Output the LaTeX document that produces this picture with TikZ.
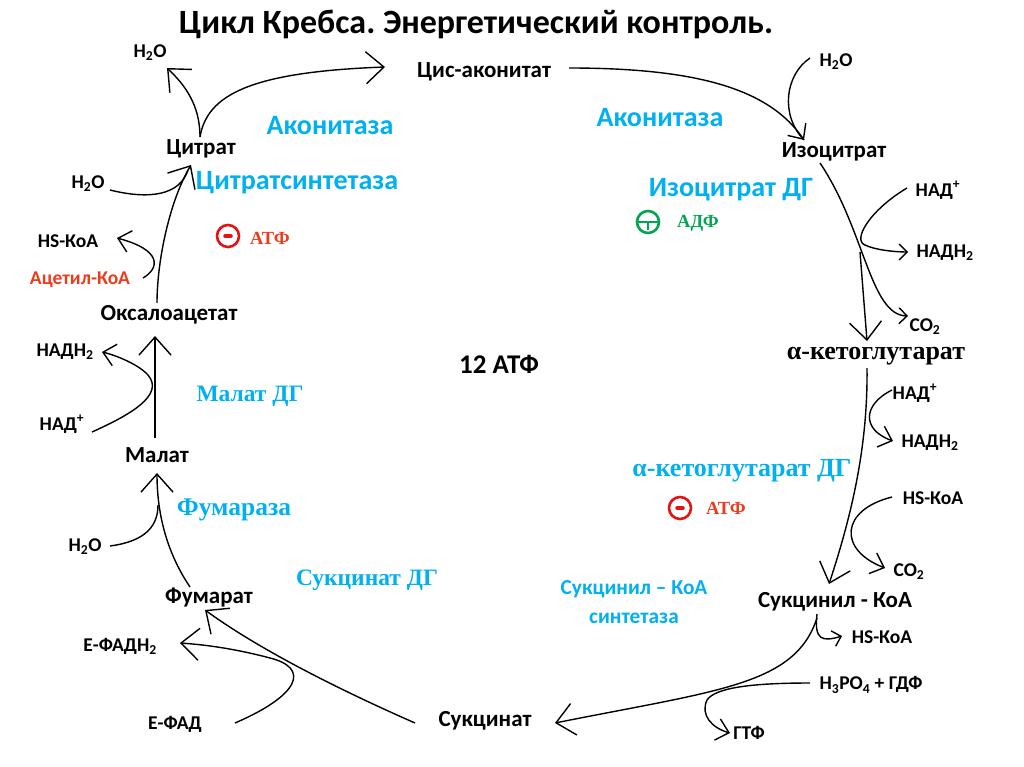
\documentclass[tikz,border=0pt]{standalone}
\usepackage{fontspec}
\setmainfont{Carlito}
\newfontfamily\tms{Liberation Serif}
\usetikzlibrary{arrows.meta}
\definecolor{enzblue}{RGB}{0,176,240}
\definecolor{txtred}{RGB}{235,60,30}
\definecolor{inhred}{RGB}{228,20,20}
\definecolor{actgreen}{RGB}{0,166,80}
\frenchspacing
\tikzset{
  lbl/.style={inner sep=0pt, font=\bfseries\fontsize{23}{27}\selectfont},
  sml/.style={inner sep=0pt, font=\bfseries\fontsize{19.5}{23}\selectfont},
  enz/.style={inner sep=0pt, text=enzblue, font=\bfseries\fontsize{28}{33}\selectfont},
  enzt/.style={inner sep=0pt, text=enzblue, font=\tms\bfseries\fontsize{23.5}{28}\selectfont},
  eff/.style={inner sep=0pt, font=\tms\bfseries\fontsize{18.5}{22}\selectfont},
  conn/.style={line width=1.4pt, black},
  bigA/.style={-{Straight Barb[length=18pt,width=32pt]}},
  medA/.style={-{Straight Barb[length=12pt,width=22pt]}},
  smallA/.style={-{Straight Barb[length=8pt,width=16pt]}},
  inh/.style={circle, draw=inhred, line width=2.6pt, minimum size=22pt, inner sep=0pt},
  act/.style={circle, draw=actgreen, line width=2.6pt, minimum size=22pt, inner sep=0pt}
}
\begin{document}
\begin{tikzpicture}[x=1pt,y=-1pt]
\useasboundingbox (0,0) rectangle (1024,767);
\fill[white] (0,0) rectangle (1024,767);

% title
\node[inner sep=0pt, font=\bfseries\fontsize{34}{40}\selectfont] (title) at (476,24) {Цикл Кребса. Энергетический контроль.};

% metabolites
\node[lbl] (cis) at (484,72) {Цис-аконитат};
\node[lbl] (izo) at (834,152) {Изоцитрат};
\node[lbl] (cit) at (201,149) {Цитрат};
\node[lbl] (oxa) at (169,315) {Оксалоацетат};
\node[inner sep=0pt, font=\tms\bfseries\fontsize{26}{30}\selectfont] (akg) at (876,356) {α-кетоглутарат};
\node[lbl] (mal) at (157,455) {Малат};
\node[lbl] (fum) at (209,598) {Фумарат};
\node[lbl] (sucoa) at (835,602) {Сукцинил - КоА};
\node[lbl] (suc) at (485,721) {Сукцинат};
\node[inner sep=0pt, font=\bfseries\fontsize{27}{32}\selectfont] (atp12) at (499,364) {12 АТФ};

% small co-substrates
\node[sml] (h2oA) at (150,53) {H\textsubscript{2}O};
\node[sml] (h2oB) at (836,62) {H\textsubscript{2}O};
\node[sml] (h2oC) at (88,184) {H\textsubscript{2}O};
\node[sml] (hskoaA) at (68,241) {HS-КоА};
\node[sml, text=txtred] (acetyl) at (80,280) {Ацетил-КоА};
\node[sml] (nadhA) at (65,352) {НАДН\textsubscript{2}};
\node[sml] (nadA) at (62,424) {НАД\textsuperscript{+}};
\node[sml] (h2oD) at (85,547) {H\textsubscript{2}O};
\node[sml] (efadh) at (120,646) {Е-ФАДН\textsubscript{2}};
\node[sml] (efad) at (175,724) {Е-ФАД};
\node[sml] (nadB) at (938,190) {НАД\textsuperscript{+}};
\node[sml] (nadhB) at (945,253) {НАДН\textsubscript{2}};
\node[sml] (co2A) at (925,327) {CO\textsubscript{2}};
\node[sml] (nadC) at (915,393) {НАД\textsuperscript{+}};
\node[sml] (nadhC) at (930,443) {НАДН\textsubscript{2}};
\node[sml] (hskoaB) at (933,498) {HS-КоА};
\node[sml] (co2B) at (909,572) {CO\textsubscript{2}};
\node[sml] (hskoaC) at (882,637) {HS-КоА};
\node[sml] (h3po4) at (871,685) {H\textsubscript{3}PO\textsubscript{4} + ГДФ};
\node[sml] (gtf) at (749,733) {ГТФ};

% enzymes
\node[enz] (akon1) at (330,126) {Аконитаза};
\node[enz] (akon2) at (660,118) {Аконитаза};
\node[enz] (citsyn) at (297,183) {Цитратсинтетаза};
\node[enz] (izodg) at (731,190) {Изоцитрат ДГ};
\node[enzt] (maldg) at (250,396) {Малат ДГ};
\node[enzt, font=\tms\bfseries\fontsize{25.5}{30}\selectfont] (fumaraza) at (234,510) {Фумараза};
\node[enzt] (sucdg) at (367,580) {Сукцинат ДГ};
\node[enzt, font=\tms\bfseries\fontsize{26}{30}\selectfont] (akgdg) at (742,471) {α-кетоглутарат ДГ};
\node[inner sep=0pt, text=enzblue, align=center, font=\bfseries\fontsize{21.3}{29}\selectfont] (sucsyn) at (634,602) {Сукцинил – КоА\\синтетаза};

% effectors
\node[inh] (neg1) at (228,236) {};
\draw[inhred, line width=3.5pt, line cap=round] ([xshift=-3pt]neg1.center) -- ([xshift=3pt]neg1.center);
\node[eff, text=txtred] (atf1) at (270,238) {АТФ};
\node[act] (pos1) at (648,222) {};
\draw[actgreen, line width=2.4pt] (pos1.west) -- (pos1.east);
\draw[actgreen, line width=2.4pt] (pos1.center) -- ([yshift=4pt]pos1.south);
\node[eff, text=actgreen] (adf) at (698,223) {АДФ};
\node[inh] (neg2) at (680,508) {};
\draw[inhred, line width=3.5pt, line cap=round] ([xshift=-3pt]neg2.center) -- ([xshift=3pt]neg2.center);
\node[eff, text=txtred] (atf2) at (726,508) {АТФ};

% junction coordinates
\coordinate (citTop) at (200,137);
\coordinate (cisIn) at (385,67);
\coordinate (h2oAtip) at (167,68);
\coordinate (cisOut) at (569,68);
\coordinate (izoIn) at (804,140);
\coordinate (h2oBst) at (810,58);
\coordinate (izoOut) at (820,163);
\coordinate (co2Atip) at (908,316);
\coordinate (bSt) at (860,252);
\coordinate (akgIn) at (867,341);
\coordinate (nadBst) at (907,188);
\coordinate (nadhBtip) at (908,252);
\coordinate (akgOut) at (867,368);
\coordinate (sucoaIn) at (829,584);
\coordinate (nadCst) at (892,390);
\coordinate (nadhCtip) at (893,441);
\coordinate (hskoaBst) at (892,497);
\coordinate (co2Btip) at (885,568);
\coordinate (sucoaOut) at (817,618);
\coordinate (sucIn) at (555,723);
\coordinate (hskoaCtip) at (842,636);
\coordinate (h3po4st) at (810,683);
\coordinate (gtfTip) at (730,733);
\coordinate (sucOut) at (415,723);
\coordinate (fumIn) at (205,610);
\coordinate (efadSt) at (235,723);
\coordinate (efadhTip) at (180,643);
\coordinate (fumOut) at (190,587);
\coordinate (malIn) at (157,473);
\coordinate (h2oDst) at (110,546);
\coordinate (h2oDend) at (158,505);
\coordinate (malOut) at (155,438);
\coordinate (oxaIn) at (155,336);
\coordinate (nadAst) at (92,432);
\coordinate (nadhAtip) at (102,352);
\coordinate (oxaOut) at (157,303);
\coordinate (citIn) at (191,165);
\coordinate (h2oCst) at (110,190);
\coordinate (h2oCend) at (188,170);
\coordinate (acetylSt) at (143,278);
\coordinate (hskoaAtip) at (117,238);

% connectors
\draw[conn,bigA] (citTop) .. controls (207,95) and (250,72) .. (cisIn);
\draw[conn,bigA] (citTop) .. controls (200,105) and (185,85) .. (h2oAtip);

\draw[conn,medA] (cisOut) .. controls (700,68) and (770,90) .. (izoIn);
\draw[conn] (h2oBst) .. controls (785,75) and (780,115) .. (izoIn);

\draw[conn,smallA] (izoOut) .. controls (865,230) and (870,315) .. (co2Atip);
\draw[conn,bigA] (bSt) -- (akgIn);
\draw[conn,smallA] (nadBst) .. controls (870,210) and (852,240) .. (865,245) .. controls (875,250) and (895,252) .. (nadhBtip);

\draw[conn,bigA] (akgOut) .. controls (868,450) and (850,520) .. (sucoaIn);
\draw[conn,medA] (nadCst) .. controls (862,405) and (862,430) .. (nadhCtip);
\draw[conn,medA] (hskoaBst) .. controls (840,510) and (838,550) .. (co2Btip);

\draw[conn,bigA] (sucoaOut) .. controls (795,685) and (720,690) .. (sucIn);
\draw[conn,smallA] ([yshift=4pt]sucoaOut) .. controls (814,640) and (822,642) .. (hskoaCtip);
\draw[conn,medA] (h3po4st) .. controls (750,683) and (715,688) .. (707,700) .. controls (700,715) and (712,728) .. (gtfTip);

\draw[conn,bigA] (sucOut) .. controls (340,690) and (260,650) .. (fumIn);
\draw[conn,bigA] (efadSt) .. controls (300,695) and (310,668) .. (270,658) .. controls (240,650) and (210,645) .. (efadhTip);

\draw[conn,bigA] (fumOut) .. controls (165,550) and (157,510) .. (malIn);
\draw[conn] (h2oDst) .. controls (140,542) and (158,530) .. (h2oDend);

\draw[conn,bigA] (malOut) -- (oxaIn);
\draw[conn,medA] (nadAst) .. controls (130,415) and (165,395) .. (148,375) .. controls (138,364) and (115,355) .. (nadhAtip);

\draw[conn,bigA] (oxaOut) .. controls (157,260) and (170,200) .. (citIn);
\draw[conn] (h2oCst) .. controls (150,200) and (180,195) .. (h2oCend);
\draw[conn,medA] (acetylSt) .. controls (160,268) and (162,250) .. (hskoaAtip);
\end{tikzpicture}
\end{document}
